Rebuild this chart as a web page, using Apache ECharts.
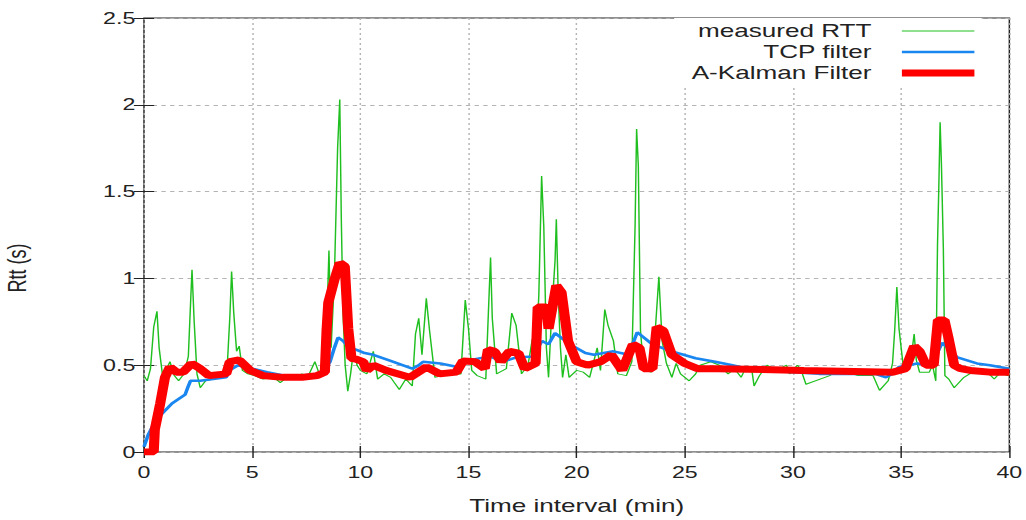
<!DOCTYPE html>
<html>
<head>
<meta charset="utf-8">
<script src="https://cdn.jsdelivr.net/npm/echarts@6/dist/echarts.min.js"></script>
<style>
  html, body { margin: 0; padding: 0; background: #fff; overflow: hidden; }
  /* the source picture is stretched sideways, so the chart is drawn narrow and widened */
  #main { width: 708px; height: 520px; transform: scaleX(1.45); transform-origin: 0 0; }
</style>
</head>
<body>
<div id="main"></div>
<script>
// measured RTT [min, s]
var measuredRtt = [
  [0,0.44],[0.15,0.41],[0.3,0.48],[0.45,0.72],[0.6,0.81],[0.7,0.6],[0.85,0.45],[1.05,0.48],[1.2,0.52],[1.4,0.44],
  [1.6,0.41],[1.85,0.45],[2.05,0.55],[2.15,0.85],[2.22,1.05],[2.32,0.75],[2.45,0.45],[2.6,0.37],[2.85,0.41],[3.2,0.42],
  [3.6,0.45],[3.85,0.5],[3.97,0.78],[4.05,1.04],[4.15,0.8],[4.28,0.58],[4.4,0.61],[4.55,0.47],[4.8,0.45],[5.1,0.44],
  [5.5,0.42],[6.0,0.43],[6.3,0.40],[6.6,0.43],[7.0,0.42],[7.3,0.45],[7.6,0.44],[7.9,0.52],[8.1,0.45],[8.3,0.48],
  [8.45,0.75],[8.55,1.16],[8.65,0.6],[8.8,1.0],[8.95,1.75],[9.05,2.03],[9.12,1.35],[9.2,0.8],[9.3,0.5],[9.42,0.35],
  [9.55,0.45],[9.7,0.6],[9.85,0.5],[10.0,0.47],[10.3,0.45],[10.6,0.58],[10.8,0.42],[11.1,0.45],[11.4,0.43],[11.8,0.36],
  [12.1,0.42],[12.4,0.38],[12.55,0.68],[12.7,0.77],[12.85,0.56],[13.05,0.885],[13.2,0.7],[13.45,0.43],[13.8,0.44],[14.2,0.45],
  [14.65,0.45],[14.85,0.875],[15.0,0.71],[15.15,0.47],[15.4,0.44],[15.8,0.42],[15.95,0.9],[16.02,1.12],[16.1,0.77],[16.3,0.45],
  [16.75,0.48],[17.0,0.80],[17.2,0.73],[17.45,0.45],[17.75,0.50],[17.95,0.65],[18.1,0.51],[18.25,0.9],[18.38,1.59],[18.48,1.3],
  [18.6,0.6],[18.7,0.43],[18.85,0.81],[19.0,1.1],[19.06,1.34],[19.15,0.9],[19.25,0.6],[19.35,0.43],[19.5,0.56],[19.65,0.43],
  [20.0,0.47],[20.3,0.46],[20.6,0.43],[20.95,0.6],[21.1,0.47],[21.3,0.82],[21.45,0.73],[21.7,0.64],[21.9,0.45],[22.3,0.44],
  [22.55,0.52],[22.7,1.3],[22.77,1.86],[22.85,1.65],[22.95,0.7],[23.1,0.47],[23.45,0.46],[23.65,0.73],[23.8,1.01],[23.95,0.64],
  [24.15,0.51],[24.4,0.43],[24.6,0.51],[24.8,0.45],[25.2,0.41],[25.5,0.45],[25.7,0.5],[26.2,0.52],[26.6,0.5],[27.0,0.45],
  [27.3,0.48],[27.6,0.43],[27.8,0.48],[28.1,0.47],[28.2,0.38],[28.45,0.44],[28.8,0.5],[29.2,0.47],[29.7,0.5],[29.84,0.45],
  [30.2,0.5],[30.35,0.48],[30.6,0.39],[31.7,0.44],[32.1,0.48],[32.5,0.46],[33.0,0.44],[33.7,0.44],[34.0,0.355],[34.4,0.41],
  [34.6,0.51],[34.7,0.7],[34.8,0.95],[34.9,0.71],[35.0,0.6],[35.1,0.49],[35.45,0.535],[35.6,0.68],[35.7,0.53],[35.85,0.46],
  [36.3,0.46],[36.45,0.5],[36.6,0.41],[36.68,1.2],[36.74,1.53],[36.8,1.9],[36.86,1.66],[36.95,1.17],[37.02,0.44],[37.2,0.42],
  [37.45,0.37],[37.9,0.43],[38.3,0.46],[38.9,0.47],[39.3,0.42],[39.6,0.46],[39.9,0.44],[40,0.45]
]

// TCP filter
var tcpFilter = [
  [0,0.03],[0.2,0.1],[0.45,0.16],[0.75,0.21],[1.3,0.28],[1.9,0.33],[2.05,0.38],[2.15,0.41],[2.6,0.41],[3.8,0.43],
  [3.95,0.47],[4.35,0.5],[4.6,0.49],[5.0,0.48],[5.7,0.46],[6.5,0.44],[7.2,0.44],[8.0,0.45],[8.3,0.46],[8.6,0.52],
  [8.8,0.6],[8.97,0.66],[9.2,0.64],[9.5,0.6],[9.8,0.59],[10.2,0.57],[10.6,0.56],[11.5,0.52],[12.4,0.48],[12.7,0.5],
  [12.9,0.52],[13.7,0.51],[14.5,0.49],[14.8,0.52],[15.3,0.535],[15.98,0.55],[16.6,0.52],[17.2,0.545],[17.98,0.55],[18.4,0.64],
  [18.7,0.62],[19.0,0.685],[19.7,0.62],[20.4,0.57],[20.8,0.56],[21.7,0.58],[22.4,0.56],[22.8,0.69],[23.5,0.62],[24.4,0.58],
  [25.5,0.54],[26.4,0.52],[27.2,0.5],[27.9,0.48],[28.8,0.47],[30,0.46],[31.2,0.45],[32.1,0.45],[33.8,0.45],[34.3,0.43],
  [34.6,0.45],[34.9,0.49],[35.3,0.5],[35.76,0.51],[36.4,0.5],[36.9,0.63],[37.6,0.545],[38.5,0.51],[39.1,0.5],[40,0.48]
]

// A-Kalman filter
var kalmanFilter = [
  [0,0],[0.45,0],[0.5,0.13],[0.75,0.28],[0.97,0.43],[1.2,0.49],[1.5,0.46],[1.8,0.46],[2.2,0.51],[2.6,0.48],
  [3.0,0.44],[3.8,0.45],[3.97,0.52],[4.4,0.53],[4.9,0.47],[5.5,0.44],[6.4,0.43],[7.3,0.43],[8.0,0.44],[8.36,0.46],
  [8.44,0.7],[8.52,0.86],[8.82,1.0],[9.05,1.09],[9.28,1.07],[9.44,0.71],[9.59,0.54],[9.8,0.535],[10.13,0.52],[10.3,0.47],
  [10.6,0.5],[11.2,0.47],[12.3,0.43],[13.06,0.49],[13.67,0.45],[14.44,0.46],[14.75,0.525],[15.3,0.52],[15.75,0.48],[15.9,0.59],
  [16.2,0.58],[16.5,0.52],[16.9,0.58],[17.3,0.57],[17.6,0.48],[18.1,0.51],[18.2,0.835],[18.6,0.835],[18.7,0.71],[19.06,0.96],
  [19.3,0.92],[19.6,0.64],[20.0,0.52],[20.5,0.5],[21.1,0.52],[21.6,0.56],[22.1,0.47],[22.6,0.62],[22.9,0.6],[23.1,0.48],
  [23.5,0.48],[23.7,0.72],[24.0,0.70],[24.4,0.56],[25.0,0.51],[25.6,0.48],[26.5,0.48],[30.5,0.47],[34.6,0.46],[35.2,0.48],
  [35.4,0.545],[35.6,0.61],[35.85,0.58],[36.15,0.5],[36.5,0.5],[36.7,0.76],[37.0,0.76],[37.2,0.65],[37.45,0.5],[37.75,0.48],
  [38.2,0.47],[39.1,0.46],[40,0.46]
]

var seriesNames = ['measured RTT', 'TCP filter', 'A-Kalman Filter']
var seriesColors = ['#1fbf1f', '#1a86f0', '#ff0000']
var seriesWidths = [1, 2.5, 7]

var font = 'Liberation Sans'
var gridCol = '#b4b4b4'
var frameCol = '#222'

var chart = echarts.init(document.getElementById('main'), null, { renderer: 'svg' })

// legend samples are plain bars as thick as each line
var legendData = seriesNames.map(function (name, i) {
  return {
    name: name,
    icon: 'path://M0,0H50V' + seriesWidths[i] + 'H0Z',
    itemStyle: { color: seriesColors[i] }
  }
})

var option = {
  animation: false,
  backgroundColor: '#fff',
  grid: {
    left: 99.3, top: 18, width: 597.3, height: 441,
    show: true, borderColor: frameCol, borderWidth: 1, backgroundColor: 'transparent'
  },
  legend: {
    data: legendData,
    orient: 'vertical',
    right: 31,
    top: 18,
    align: 'right',
    itemWidth: 50,
    itemHeight: 14,
    itemGap: 3,
    padding: [4, 5, 6, 12],
    backgroundColor: '#fff',
    textStyle: { fontFamily: font, fontSize: 18, color: '#222', padding: [0, 16, 0, 0] }
  },
  xAxis: [{
    type: 'value', min: 0, max: 40, interval: 5,
    name: 'Time interval (min)', nameLocation: 'middle', nameGap: 45,
    nameTextStyle: { fontFamily: font, fontSize: 18, color: '#222' },
    axisLine: { show: false },
    axisTick: { inside: true, length: 6, lineStyle: { color: frameCol } },
    axisLabel: { fontFamily: font, fontSize: 16, color: '#222', margin: 12 },
    splitLine: { show: true, lineStyle: { color: gridCol, type: [2, 3] } }
  }, {
    type: 'value', min: 0, max: 40, interval: 5, position: 'top',
    axisLine: { show: false },
    axisTick: { inside: true, length: 6, lineStyle: { color: frameCol } },
    axisLabel: { show: false }, splitLine: { show: false }
  }],
  yAxis: [{
    type: 'value', min: 0, max: 2.5, interval: 0.5,
    axisLine: { show: false },
    axisTick: { inside: true, length: 7, lineStyle: { color: frameCol } },
    axisLabel: { fontFamily: font, fontSize: 16, color: '#222', margin: 6 },
    splitLine: { show: true, lineStyle: { color: gridCol, type: [3, 3] } }
  }, {
    type: 'value', min: 0, max: 2.5, interval: 0.5, position: 'right',
    axisLine: { show: false },
    axisTick: { inside: true, length: 7, lineStyle: { color: frameCol } },
    axisLabel: { show: false }, splitLine: { show: false }
  }],
  graphic: [{
    type: 'text', x: 12, y: 268, rotation: Math.PI / 2,
    style: { text: 'Rtt (s)', fontFamily: font, fontSize: 18, fill: '#222', align: 'center', verticalAlign: 'middle' }
  }],
  series: seriesNames.map(function (name, i) {
    return {
      name: name,
      type: 'line',
      data: [measuredRtt, tcpFilter, kalmanFilter][i],
      showSymbol: false,
      symbol: 'none',
      lineStyle: { color: seriesColors[i], width: seriesWidths[i] },
      itemStyle: { color: seriesColors[i] },
      z: 2 + i
    }
  })
}

chart.setOption(option)
</script>
</body>
</html>
